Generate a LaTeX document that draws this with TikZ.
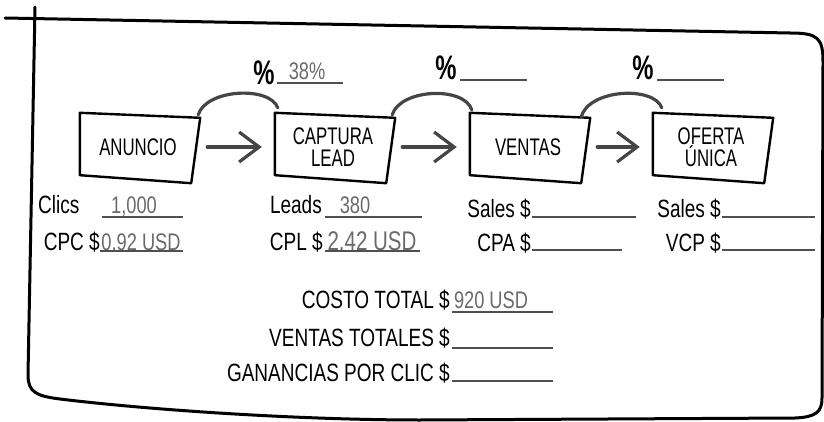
\documentclass[tikz,border=0pt]{standalone}
\usepackage{fontspec}
\setmainfont{Liberation Sans}
\newfontfamily\handfont[FakeStretch=0.70]{Liberation Sans}
\newfontfamily\labelfont[FakeStretch=0.76]{Liberation Sans}
\usetikzlibrary{arrows.meta}
\definecolor{skInk}{HTML}{454545}
\definecolor{skRule}{HTML}{4F4F4F}
\definecolor{skValue}{HTML}{6A6A6A}
\tikzset{
  skbox/.style={minimum width=116pt, minimum height=62pt, inner sep=0pt, align=center,
    font=\handfont\fontsize{24}{22}\selectfont},
  skedge/.style={draw=skInk, line width=3.2pt, line cap=round},
  skflow/.style={skedge, -{Straight Barb[length=20pt,width=30pt]}, shorten <=11pt, shorten >=13pt},
  sklabel/.style={inner sep=0pt, font=\labelfont\fontsize{25}{25}\selectfont},
  skpct/.style={inner sep=0pt, font=\handfont\bfseries\fontsize{34}{34}\selectfont},
  skvalue/.style={inner sep=0pt, text=skValue, font=\labelfont\fontsize{24}{24}\selectfont},
  skrule/.style={draw=skRule, line width=2.6pt},
  skframe/.style={draw=black, line width=3pt, line cap=round, line join=round},
}
% skewed hand drawn outline round a box node
\newcommand{\skOutline}[1]{%
  \draw[line width=2.4pt, line join=round]
    ([yshift=3pt]#1.north west) -- ([xshift=4pt,yshift=-2pt]#1.north east)
    -- ([xshift=-5pt,yshift=-5pt]#1.south east) -- ([yshift=3pt]#1.south west) -- cycle;}
\begin{document}
\begin{tikzpicture}[x=1pt, y=-1pt]
\useasboundingbox (0,0) rectangle (824,422);
% Outer frame
\draw[skframe] (35,7) -- (28,375) .. controls (28,392) and (36,396) .. (60,399)
  .. controls (150,410) and (300,420) .. (420,420) -- (795,418)
  .. controls (816,417) and (822,412) .. (822,398) -- (823,62)
  .. controls (823,38) and (818,33) .. (790,33) -- (5,18);
% Funnel steps
\node[skbox] (anuncio) at (138,147) {ANUNCIO};
\node[skbox] (captura) at (333,147) {CAPTURA\\LEAD};
\node[skbox] (ventas) at (528,147) {VENTAS};
\node[skbox] (oferta) at (711,147) {OFERTA\\ÚNICA};
\skOutline{anuncio}
\skOutline{captura}
\skOutline{ventas}
\skOutline{oferta}
% Arrows between steps
\draw[skflow] (anuncio) -- (captura);
\draw[skflow] (captura) -- (ventas);
\draw[skflow] (ventas) -- (oferta);
% Conversion arcs
\draw[skedge] ([xshift=2pt,yshift=1pt]anuncio.north east) .. controls +(8,-26) and +(-8,-22) .. ([xshift=3pt,yshift=8pt]captura.north west);
\draw[skedge] ([xshift=1pt,yshift=1pt]captura.north east) .. controls +(8,-26) and +(-8,-24) .. ([xshift=2pt,yshift=6pt]ventas.north west);
\draw[skedge] ([xshift=-5pt,yshift=-1pt]ventas.north east) .. controls +(8,-28) and +(-8,-22) .. ([xshift=9pt,yshift=8pt]oferta.north west);
% Conversion rates
\node[skpct, anchor=base] (pctA) at (264,85) {\%};
\node[skpct, anchor=base] (pctB) at (446,80) {\%};
\node[skpct, anchor=base] (pctC) at (643,80) {\%};
\node[skvalue, anchor=base] (rateA) at (307,80) {38\%};
\draw[skrule] (277,83) -- (343,83);
\draw[skrule] (460,80) -- (527,80);
\draw[skrule] (657,80) -- (724,80);
% Metrics under each step
\node[sklabel, anchor=base west] (clics) at (38,213) {Clics};
\node[sklabel, anchor=base east] (cpc) at (100,250) {CPC \$};
\node[skvalue, anchor=base] (clicsval) at (134,213) {1,000};
\node[skvalue, anchor=base] (cpcval) at (141,250) {0.92 USD};
\draw[skrule] (102,217) -- (183,217);
\draw[skrule] (100,251) -- (183,251);
\node[sklabel, anchor=base east] (leads) at (322,213) {Leads};
\node[sklabel, anchor=base east] (cpl) at (323,250) {CPL \$};
\node[skvalue, anchor=base] (leadsval) at (355,213) {380};
\node[skvalue, anchor=base, font=\labelfont\fontsize{27}{27}\selectfont] (cplval) at (372,250) {2.42 USD};
\draw[skrule] (325,217) -- (422,217);
\draw[skrule] (325,251) -- (420,251);
\node[sklabel, anchor=base east] (salesA) at (531,217) {Sales \$};
\node[sklabel, anchor=base east] (cpa) at (531,251) {CPA \$};
\draw[skrule] (532,217) -- (636,217);
\draw[skrule] (532,250) -- (622,250);
\node[sklabel, anchor=base east] (salesB) at (721,217) {Sales \$};
\node[sklabel, anchor=base east] (vcp) at (721,251) {VCP \$};
\draw[skrule] (722,217) -- (815,217);
\draw[skrule] (722,250) -- (815,250);
% Totals
\node[sklabel, anchor=base east] (costo) at (450,308) {COSTO TOTAL \$};
\node[sklabel, anchor=base east] (ventastot) at (450,346) {VENTAS TOTALES \$};
\node[sklabel, anchor=base east] (ganancias) at (450,381) {GANANCIAS POR CLIC \$};
\node[skvalue, anchor=base] (costoval) at (491,308) {920 USD};
\draw[skrule] (452,312) -- (553,312);
\draw[skrule] (452,348) -- (553,348);
\draw[skrule] (452,381) -- (553,381);
\end{tikzpicture}
\end{document}
